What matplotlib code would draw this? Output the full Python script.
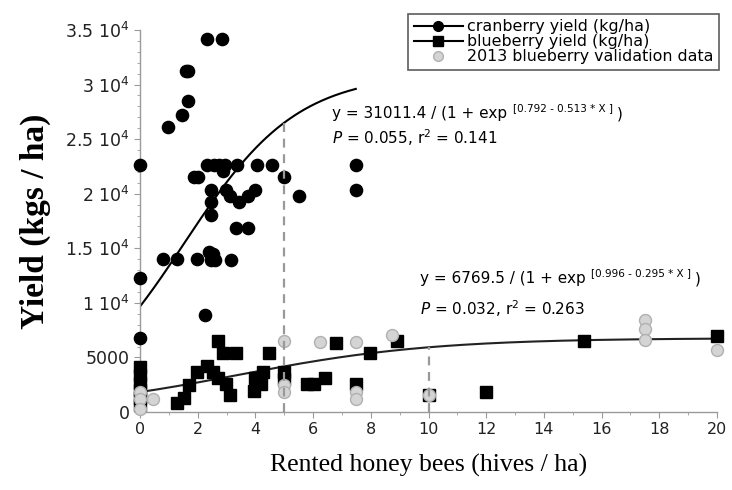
import numpy as np
import matplotlib
matplotlib.use("Agg")
from matplotlib import pyplot as plt
from matplotlib.lines import Line2D
from matplotlib.ticker import MultipleLocator, FixedLocator

# cranberry yield (kg/ha) vs rented hives/ha
cran_x = [0, 0, 0, 0.8, 0.97, 1.28, 1.45, 1.6, 1.67, 1.65, 1.88, 2.0, 1.97,
          2.25, 2.32, 2.83, 2.32, 2.55, 2.74, 2.95, 3.36, 4.05, 4.59, 7.48,
          2.88, 4.99, 2.47, 2.98, 3.99, 7.48, 3.12, 3.74, 5.5, 2.47, 3.44,
          2.47, 3.32, 3.73, 2.4, 2.52, 2.46, 2.6, 3.17]
cran_y = [22600, 12300, 6750, 14000, 26100, 14000, 27250, 31200, 31200, 28500,
          21550, 21550, 14000, 8850, 34200, 34200, 22650, 22650, 22650, 22650,
          22650, 22650, 22650, 22650, 22050, 21550, 20350, 20350, 20350, 20350,
          19750, 19800, 19750, 19200, 19200, 18050, 16900, 16900, 14700, 14450,
          13950, 13950, 13950]

# blueberry yield (kg/ha)
blue_x = [0, 0, 0, 0, 0, 0, 1.28, 1.53, 1.71, 1.96, 2.32, 2.52, 2.71, 2.71,
          2.86, 2.98, 3.11, 3.32, 3.96, 3.98, 4.19, 4.27, 4.47, 5.0, 5.0,
          5.8, 6.03, 6.4, 6.78, 7.5, 7.97, 8.92, 10.0, 12.0, 15.4, 20.0]
blue_y = [4100, 3400, 2700, 2000, 1300, 600, 860, 1290, 2460, 3620, 4240, 3620,
          6510, 3070, 5370, 2520, 1540, 5370, 1900, 3130, 2520, 3620, 5370,
          3620, 3050, 2520, 2520, 3070, 6290, 2520, 5370, 6510, 1590, 1840,
          6510, 7000]

# 2013 blueberry validation data
val_x = [0, 0, 0, 0.46, 5.0, 5.0, 5.0, 6.24, 7.5, 7.5, 7.5, 8.74, 10.0,
         17.5, 17.5, 17.5, 20.0]
val_y = [1800, 1200, 300, 1170, 6510, 2460, 1840, 6450, 6450, 1840, 1230,
         7060, 1590, 8440, 7620, 6600, 5680]

# logistic fits shown on the chart
cran_fit = (31011.4, 0.792, 0.513)
blue_fit = (6769.5, 0.996, 0.295)

ytick_vals = [0, 5000, 10000, 15000, 20000, 25000, 30000, 35000]
ytick_labels = ["0", "5000", "1 10$^4$", "1.5 10$^4$", "2 10$^4$",
                "2.5 10$^4$", "3 10$^4$", "3.5 10$^4$"]

plt.rcParams['mathtext.fontset'] = 'dejavusans'

fig = plt.figure(figsize=(7.32, 4.9), dpi=100)
ax = fig.add_axes([140/732, 1-412/490, 577/732, 382/490])

def logistic(x, p):
    a, b, c = p
    return a / (1 + np.exp(b - c * x))

xc = np.linspace(0, 7.48, 200)
xb = np.linspace(0, 20, 300)
ax.plot(xc, logistic(xc, cran_fit), color='black', lw=1.5, zorder=2)
ax.plot(xb, logistic(xb, blue_fit), color='#222222', lw=1.5, zorder=2)

ax.plot(cran_x, cran_y, 'o', color='black', ms=8.8, zorder=3, clip_on=False)
ax.plot(blue_x, blue_y, 's', color='black', ms=8, zorder=4, clip_on=False)
ax.plot(val_x, val_y, 'o', mfc='#d4d4d4', mec='#b0b0b0', mew=1, ms=8.6,
        zorder=5, clip_on=False)

# dashed guides at 5 and 10 hives/ha
ax.vlines(5, 0, logistic(5, cran_fit), colors='#999999', linestyles=(0, (4, 3)),
          lw=1.6, zorder=6)
ax.vlines(10, 0, logistic(10, blue_fit), colors='#999999', linestyles=(0, (4, 3)),
          lw=1.6, zorder=6)

def equation(x, y, head, expo, stats, gap):
    t = ax.text(x, y, head, fontsize=11, va='center')
    s = ax.annotate(expo, xy=(1, 1), xycoords=t, xytext=(4, -5),
                    textcoords='offset points', fontsize=7.5, va='bottom')
    ax.annotate(")", xy=(1, 0), xycoords=s, xytext=(3, -6),
                textcoords='offset points', fontsize=11, va='bottom')
    ax.text(x, y - gap, stats, fontsize=11, va='center')

equation(6.65, 27350, "y = 31011.4 / (1 + exp", "[0.792 - 0.513 * X ]",
         r"$\it{P}$ = 0.055, r$^2$ = 0.141", 2250)
equation(9.7, 12250, "y = 6769.5 / (1 + exp", "[0.996 - 0.295 * X ]",
         r"$\it{P}$ = 0.032, r$^2$ = 0.263", 2750)

ax.set_xlim(0, 20)
ax.set_ylim(0, 35000)
ax.xaxis.set_major_locator(MultipleLocator(2))
ax.xaxis.set_minor_locator(MultipleLocator(1))
ax.yaxis.set_major_locator(FixedLocator(ytick_vals))
ax.yaxis.set_minor_locator(MultipleLocator(1000))
ax.set_yticklabels(ytick_labels)

for s in ['top', 'right']:
    ax.spines[s].set_visible(False)
for s in ['left', 'bottom']:
    ax.spines[s].set_color('#9a9a9a')
    ax.spines[s].set_linewidth(1)
ax.tick_params(which='major', direction='out', length=4, color='#9a9a9a',
               labelsize=11.5, labelcolor='#222222')
ax.tick_params(axis='y', which='major', labelsize=12.5)
ax.tick_params(which='minor', direction='out', length=2.5, color='#9a9a9a')

ax.set_xlabel("Rented honey bees (hives / ha)", fontsize=18.5,
              family='Liberation Serif', labelpad=12)
ax.set_ylabel("Yield (kgs / ha)", fontsize=24, family='Liberation Serif',
              fontweight='bold', labelpad=10)

handles = [
    Line2D([], [], color='black', lw=1.5, marker='o', ms=7),
    Line2D([], [], color='black', lw=1.5, marker='s', ms=6.5),
    Line2D([], [], ls='none', marker='o', mfc='#d4d4d4', mec='#b0b0b0', ms=7),
]
labels = ["cranberry yield (kg/ha)", "blueberry yield (kg/ha)",
          "2013 blueberry validation data"]
leg = ax.legend(handles, labels, loc='upper right', bbox_to_anchor=(1.018, 1.063),
                fontsize=11.4, frameon=True, fancybox=False, handlelength=3.1,
                handletextpad=0.3, labelspacing=0.0, borderpad=0.35)
leg.get_frame().set_edgecolor('#333333')
leg.get_frame().set_linewidth(1.2)

fig.savefig("out.png", dpi=100)
